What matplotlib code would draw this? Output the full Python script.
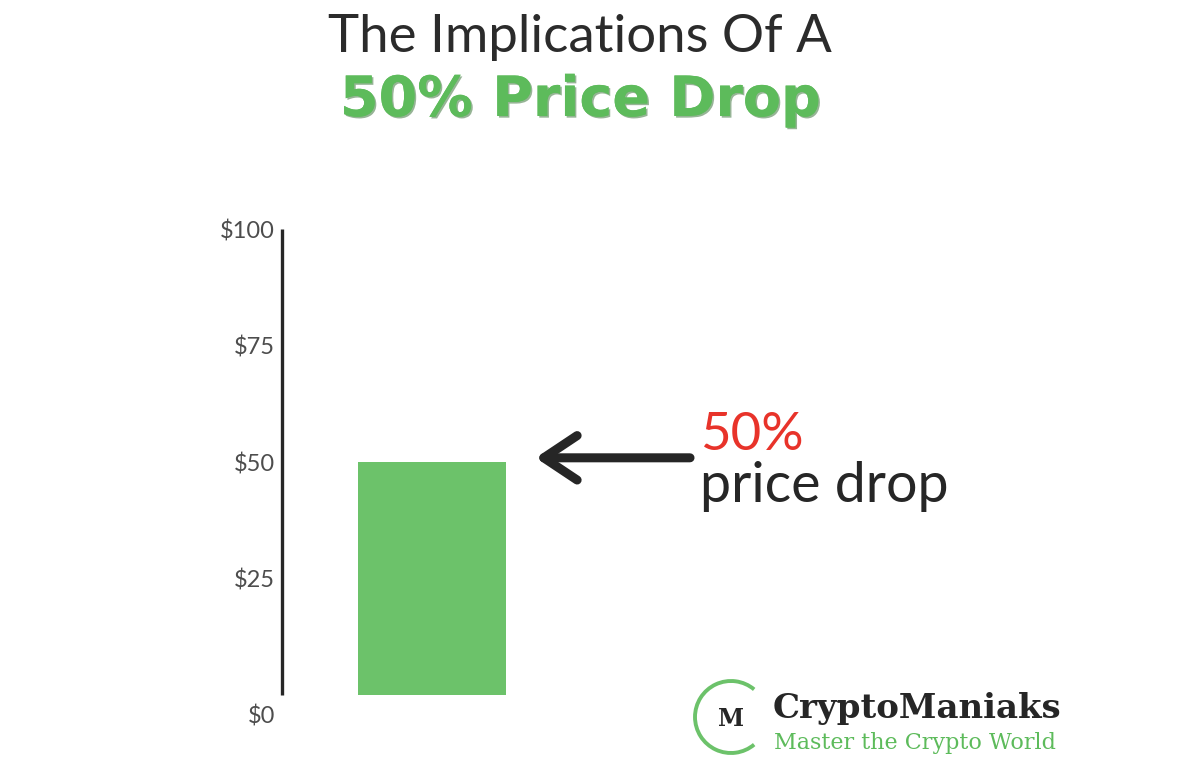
import matplotlib
matplotlib.use("Agg")
import matplotlib.pyplot as plt
import matplotlib.patheffects as pe
import matplotlib.transforms as mtransforms
from matplotlib.patches import Arc

# ---- data ----
categories = ["Price after drop"]
values = [50]
tick_values = [0, 25, 50, 75, 100]
tick_labels = ["$0", "$25", "$50", "$75", "$100"]
title_line1 = "The Implications Of A"
title_line2 = "50% Price Drop"
note_pct = "50%"
note_text = "price drop"
brand = "CryptoManiaks"
tagline = "Master the Crypto World"

W, H = 1178, 764
fig = plt.figure(figsize=(W / 100, H / 100), dpi=100)
fig.patch.set_facecolor("white")

def fx(px):
    return px / W

def fy(py):
    return 1 - py / H

GREEN = "#6CC26A"
TGREEN = "#5DBB5B"
DARK = "#262626"
GRAY = "#4d4d4d"

# axes: spine at x=282, y from 229 (100) to 695 (0)
ax = fig.add_axes([fx(282), fy(695), fx(1178) - fx(282), fy(229) - fy(695)])
ax.set_facecolor("none")
ax.bar(range(len(categories)), values, width=1.0, color=GREEN, zorder=2)
ax.set_xlim(-1.014, -1.014 + 896 / 148)
ax.set_ylim(0, 100)
for s in ["top", "right", "bottom"]:
    ax.spines[s].set_visible(False)
ax.spines["left"].set_linewidth(2.4)
ax.spines["left"].set_color(DARK)
ax.spines["left"].set_capstyle("butt")
ax.set_xticks([])
ax.set_yticks(tick_values)
ax.set_yticklabels(tick_labels, fontsize=17, color=GRAY, fontweight="normal",
                   family=["Lato", "DejaVu Sans"])
ax.tick_params(axis="y", length=0, pad=5)
lbl0 = ax.get_yticklabels()[0]
lbl0.set_va("top")
lbl0.set_transform(lbl0.get_transform() + mtransforms.ScaledTranslation(0, -10 / 100, fig.dpi_scale_trans))

# arrow pointing at bar top
ax.annotate("", xy=(0.70, values[0] + 0.9), xytext=(1.743, values[0] + 0.9),
            arrowprops=dict(arrowstyle="->,head_length=0.6,head_width=0.4",
                            mutation_scale=40, lw=6.5, color=DARK,
                            capstyle="round", joinstyle="round",
                            shrinkA=0, shrinkB=0))

# annotation text
fig.text(fx(700), fy(450), note_pct, fontsize=38, color="#E8332A",
         family=["Lato", "DejaVu Sans"], ha="left", va="baseline")
fig.text(fx(700), fy(502), note_text, fontsize=40, color=DARK,
         family=["Lato", "DejaVu Sans"], ha="left", va="baseline")

# titles
fig.text(fx(580), fy(52), title_line1, fontsize=38, color="#2b2b2b", fontweight="normal",
         family=["Lato", "DejaVu Sans"], ha="center", va="baseline")
t2 = fig.text(fx(580), fy(116), title_line2, fontsize=40, color=TGREEN, fontweight="bold",
              family=["DejaVu Sans"], ha="center", va="baseline")
t2.set_path_effects([pe.withSimplePatchShadow(offset=(1.2, -1.2), shadow_rgbFace="#2E6B2D", alpha=0.5),
                     pe.Normal()])

# logo
lax = fig.add_axes([0, 0, 1, 1])
lax.set_xlim(0, W)
lax.set_ylim(H, 0)
lax.axis("off")
lax.set_facecolor("none")
lax.add_patch(Arc((731, 717), 72, 72, theta1=50, theta2=310, lw=2.8, color=GREEN))
lax.text(731, 719, "M", fontsize=17, fontweight="bold", color=DARK, family="DejaVu Serif",
         ha="center", va="center")
fig.text(fx(773), fy(718), brand, fontsize=24.5, fontweight="bold", color=DARK,
         family="DejaVu Serif", ha="left", va="baseline")
fig.text(fx(774), fy(749), tagline, fontsize=16, color=TGREEN,
         family="DejaVu Serif", ha="left", va="baseline")

fig.savefig("out.png", dpi=100, facecolor="white")
